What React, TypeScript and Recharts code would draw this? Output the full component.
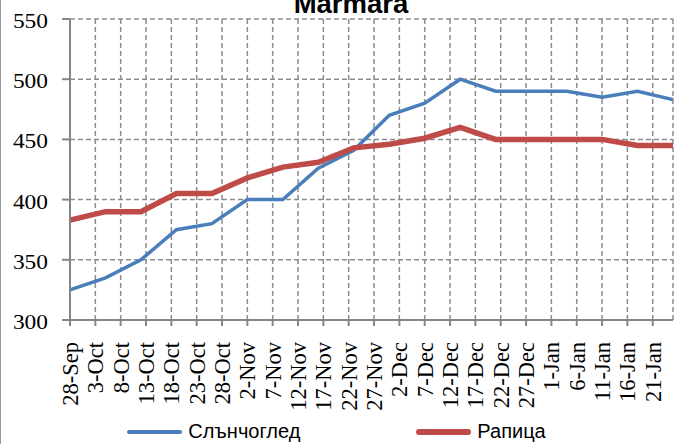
import React from "react";
import { LineChart, Line, XAxis, YAxis, CartesianGrid, Legend } from "recharts";

const dates = [
  "2015-09-28", "2015-10-05", "2015-10-12", "2015-10-19", "2015-10-26", "2015-11-02",
  "2015-11-09", "2015-11-16", "2015-11-23", "2015-11-30", "2015-12-07", "2015-12-14",
  "2015-12-21", "2015-12-28", "2016-01-04", "2016-01-11", "2016-01-18", "2016-01-25",
];
const sunflower = [325, 335, 350, 375, 380, 400, 400, 426, 441, 470, 480, 500, 490, 490, 490, 485, 490, 483];
const rapeseed = [383, 390, 390, 405, 405, 418, 427, 431, 443, 446, 451, 460, 450, 450, 450, 450, 445, 445];
const tickLabels = [
  "28-Sep", "3-Oct", "8-Oct", "13-Oct", "18-Oct", "23-Oct", "28-Oct", "2-Nov", "7-Nov", "12-Nov",
  "17-Nov", "22-Nov", "27-Nov", "2-Dec", "7-Dec", "12-Dec", "17-Dec", "22-Dec", "27-Dec", "1-Jan",
  "6-Jan", "11-Jan", "16-Jan", "21-Jan",
];
const yTicks = [300, 350, 400, 450, 500, 550];
const seriesNames = ["Слънчоглед", "Рапица"];
const title = "Marmara";

const DAY = 86400000;
const t0 = Date.parse(dates[0]);
const data = dates.map((d, i) => ({
  day: Math.round((Date.parse(d) - t0) / DAY),
  s: sunflower[i],
  r: rapeseed[i],
}));
const xTicks = tickLabels.map((_, i) => i * 5);

const BLUE = "#4A7EBB";
const RED = "#BE4B48";
const GRID = "#8c8c8c";
const SERIF = "'Liberation Serif', 'Times New Roman', serif";

const XTick = (props: any) => {
  const { x, y, payload } = props;
  const ay = y + 14;
  return (
    <text
      x={x}
      y={ay}
      transform={`rotate(-90 ${x} ${ay})`}
      textAnchor="end"
      dy="0.35em"
      fontFamily={SERIF}
      fontSize={22.5}
      fill="#000"
    >
      {tickLabels[payload.index] ?? ""}
    </text>
  );
};

const YTick = (props: any) => {
  const { x, y, payload } = props;
  return (
    <text
      x={x}
      y={y}
      transform={`translate(${x} ${y}) scale(1.17 1) translate(${-x} ${-y})`}
      textAnchor="end"
      dy={9}
      fontFamily={SERIF}
      fontSize={20}
      fill="#000"
    >
      {payload.value}
    </text>
  );
};

const LegendContent = () => (
  <div
    style={{
      display: "flex",
      justifyContent: "center",
      alignItems: "center",
      gap: 116,
      paddingRight: 16,
      fontFamily: "'Liberation Sans', Arial, sans-serif",
      fontSize: 20,
      color: "#000",
    }}
  >
    {[{ n: seriesNames[0], c: BLUE, w: 4 }, { n: seriesNames[1], c: RED, w: 6 }].map((it) => (
      <div key={it.n} style={{ display: "flex", alignItems: "center" }}>
        <div style={{ width: 55, height: it.w, background: it.c, borderRadius: 3, marginRight: 6 }} />
        <span>{it.n}</span>
      </div>
    ))}
  </div>
);

export default function App() {
  return (
    <div style={{ position: "absolute", left: 0, top: 0, width: 689, height: 444, background: "#fff", overflow: "hidden" }}>
      <div style={{ position: "absolute", left: 0, top: 0, width: 1, height: 444, background: "#999" }} />
      <LineChart
        width={689}
        height={444}
        data={data}
        margin={{ top: 19, right: 16, left: 0, bottom: 0 }}
      >
        <CartesianGrid stroke={GRID} strokeDasharray="5 3" strokeWidth={1.5} />
        <XAxis
          dataKey="day"
          type="number"
          domain={["dataMin", "dataMax"]}
          ticks={xTicks}
          interval={0}
          height={124}
          tickSize={6}
          tickMargin={2}
          tick={<XTick />}
          stroke="#868686"
          strokeWidth={2}
        />
        <YAxis
          domain={[300, 550]}
          ticks={yTicks}
          width={70}
          tickSize={8}
          tickMargin={14}
          stroke="#868686"
          strokeWidth={2}
          tick={<YTick />}
        />
        <Legend
          verticalAlign="middle"
          layout="horizontal"
          content={<LegendContent />}
          wrapperStyle={{ top: 420, left: 0, width: 689 }}
        />
        <Line
          dataKey="s"
          name={seriesNames[0]}
          stroke={BLUE}
          strokeWidth={3.5}
          dot={false}
          isAnimationActive={false}
        />
        <Line
          dataKey="r"
          name={seriesNames[1]}
          stroke={RED}
          strokeWidth={5.5}
          dot={false}
          isAnimationActive={false}
        />
      </LineChart>
      <svg style={{ position: "absolute", left: 0, top: 0 }} width={689} height={40}>
        <text
          x={351}
          y={13}
          textAnchor="middle"
          fontFamily="'Liberation Sans', Arial, sans-serif"
          fontWeight="bold"
          fontSize={27.5}
          fill="#000"
        >
          {title}
        </text>
      </svg>
    </div>
  );
}
